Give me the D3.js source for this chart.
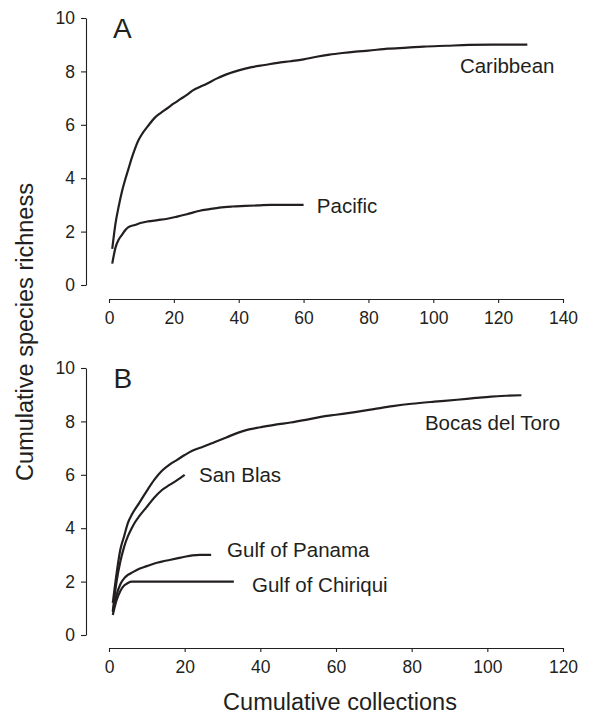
<!DOCTYPE html>
<html>
<head>
<meta charset="utf-8">
<script src="https://cdn.jsdelivr.net/npm/d3@7"></script>
<style>
  html, body { margin: 0; padding: 0; background: #fff; }
  text { font-family: "Liberation Sans", Arial, Helvetica, sans-serif; fill: #231f20; }
</style>
</head>
<body>
<svg id="chart" width="589" height="715"></svg>
<script>
// ---- Data ----
const panelLetters = ["A", "B"];
const xTicksA = [0, 20, 40, 60, 80, 100, 120, 140];
const xTicksB = [0, 20, 40, 60, 80, 100, 120];
const yTicks = [0, 2, 4, 6, 8, 10];

const caribbean = [[1,1.35],[2,2.3],[3,2.95],[4,3.5],[5,3.95],[6,4.35],[7,4.75],[8,5.1],[9,5.4],[10,5.62],[12,5.95],[14,6.25],[16,6.45],[18,6.62],[20,6.8],[22,6.96],[24,7.12],[26,7.3],[28,7.42],[30,7.53],[33,7.72],[36,7.88],[40,8.04],[44,8.16],[48,8.24],[52,8.32],[56,8.38],[60,8.45],[64,8.55],[68,8.63],[72,8.69],[76,8.74],[80,8.78],[86,8.85],[92,8.89],[97,8.93],[104,8.96],[111,8.99],[118,9.0],[129,9.0]];
const pacific = [[1,0.8],[2,1.4],[3,1.7],[4,1.88],[5,2.05],[6,2.17],[8,2.25],[10,2.33],[12,2.38],[15,2.43],[18,2.48],[21,2.56],[24,2.65],[28,2.78],[31,2.84],[34,2.9],[38,2.94],[42,2.96],[46,2.98],[50,3.0],[60,3.0]];

const bocas = [[1,1.2],[2,2.3],[3,3.2],[4,3.7],[5,4.2],[6,4.5],[8,4.95],[10,5.4],[12,5.82],[14,6.15],[16,6.38],[18,6.56],[20,6.74],[22,6.9],[25,7.06],[28,7.23],[31,7.4],[34,7.57],[37,7.7],[40,7.78],[44,7.88],[48,7.96],[52,8.06],[56,8.17],[60,8.25],[65,8.35],[70,8.46],[75,8.57],[80,8.66],[86,8.74],[92,8.81],[97,8.88],[101,8.93],[105,8.96],[109,8.98]];
const sanBlas = [[1,0.9],[2,2.0],[3,2.75],[4,3.3],[5,3.7],[6,4.0],[7,4.25],[8,4.45],[10,4.8],[12,5.15],[14,5.43],[16,5.62],[18,5.8],[20,6.0]];
const gulfPanama = [[1,0.85],[2,1.5],[3,1.9],[4,2.12],[5,2.25],[6,2.33],[8,2.48],[10,2.58],[12,2.68],[14,2.75],[16,2.81],[18,2.87],[20,2.93],[22,2.98],[24,3.0],[27,3.0]];
const gulfChiriqui = [[1,0.75],[2,1.3],[3,1.65],[4,1.85],[5,1.95],[6,2.0],[33,2.0]];

// series labels: name and anchor position in data units [x, y]
const seriesA = [
  { name: "Caribbean", values: caribbean, label: [108.2, 7.94] },
  { name: "Pacific", values: pacific, label: [64.1, 2.70] }
];
const seriesB = [
  { name: "Bocas del Toro", values: bocas, label: [83.5, 7.68] },
  { name: "San Blas", values: sanBlas, label: [23.8, 5.73] },
  { name: "Gulf of Panama", values: gulfPanama, label: [31.2, 2.92] },
  { name: "Gulf of Chiriqui", values: gulfChiriqui, label: [37.8, 1.61] }
];

// ---- Layout ----
const svg = d3.select("#chart");
const ink = "#231f20";
const panels = [
  { letter: panelLetters[0], xMax: 140, xTicks: xTicksA, top: 18, bottom: 285, xAxisY: 299, series: seriesA },
  { letter: panelLetters[1], xMax: 120, xTicks: xTicksB, top: 368, bottom: 635, xAxisY: 648, series: seriesB }
];
const yAxisX = 86, xLeft = 109, xRight = 563;

panels.forEach(p => {
  const x = d3.scaleLinear().domain([0, p.xMax]).range([xLeft, xRight]);
  const y = d3.scaleLinear().domain([0, 10]).range([p.bottom, p.top]);
  const g = svg.append("g");

  // y axis
  const ya = g.append("g").attr("transform", `translate(${yAxisX},0)`)
    .call(d3.axisLeft(y).tickValues(yTicks).tickSize(5).tickSizeOuter(0).tickPadding(6));
  ya.selectAll("text").style("font-size", "17.5px").attr("fill", ink);
  ya.selectAll("line,path").attr("stroke", ink).attr("stroke-width", 1.1);

  // x axis
  const xa = g.append("g").attr("transform", `translate(0,${p.xAxisY})`)
    .call(d3.axisBottom(x).tickValues(p.xTicks).tickSize(4).tickSizeOuter(0).tickPadding(9));
  xa.selectAll("text").style("font-size", "17.5px").attr("fill", ink);
  xa.selectAll("line,path").attr("stroke", ink).attr("stroke-width", 1.1);

  // panel letter
  g.append("text").attr("x", x(1.2)).attr("y", y(10) + 20)
    .style("font-size", "28px").text(p.letter);

  const line = d3.line().x(d => x(d[0])).y(d => y(d[1])).curve(d3.curveMonotoneX);
  p.series.forEach(s => {
    g.append("path").datum(s.values).attr("d", line)
      .attr("fill", "none").attr("stroke", ink).attr("stroke-width", 2.2)
      .attr("stroke-linejoin", "round").attr("stroke-linecap", "butt");
    g.append("text").attr("x", x(s.label[0])).attr("y", y(s.label[1]))
      .style("font-size", "20.5px").text(s.name);
  });
});

// axis titles
svg.append("text").attr("transform", "translate(33,332) rotate(-90)")
  .attr("text-anchor", "middle").style("font-size", "23.5px").text("Cumulative species richness");
svg.append("text").attr("x", 340).attr("y", 710)
  .attr("text-anchor", "middle").style("font-size", "23.5px").text("Cumulative collections");
</script>
</body>
</html>
